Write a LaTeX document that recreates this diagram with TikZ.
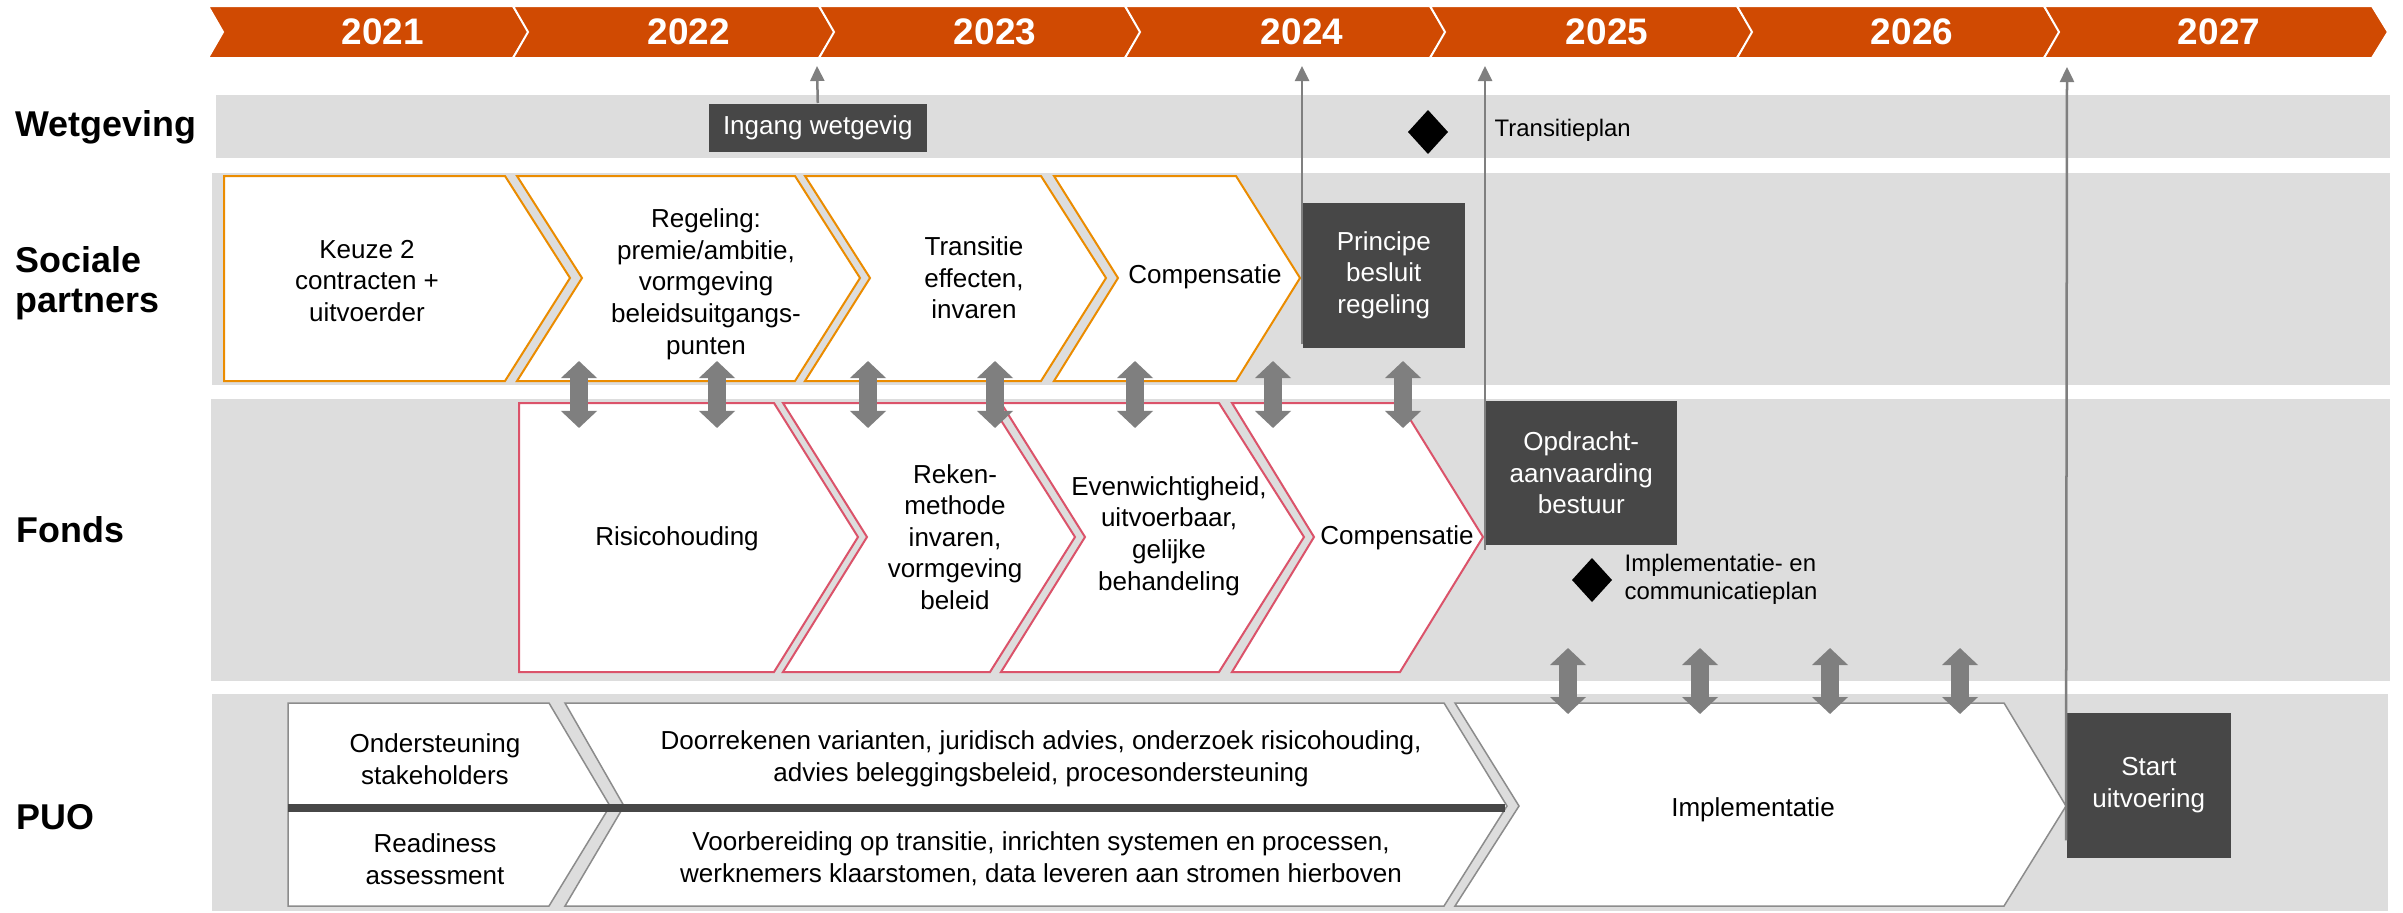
\documentclass[tikz,border=0pt]{standalone}
\usepackage{fontspec}
\setmainfont{Liberation Sans}
\usetikzlibrary{arrows.meta}
\definecolor{banner}{HTML}{D04A02}
\definecolor{band}{HTML}{DDDDDD}
\definecolor{spo}{HTML}{EB8C00}
\definecolor{fpink}{HTML}{DB536A}
\definecolor{dark}{HTML}{474747}
\definecolor{agrey}{HTML}{7F7F7F}
\definecolor{pgrey}{HTML}{8C8C8C}
\begin{document}
\begin{tikzpicture}[x=0.01cm,y=-0.01cm,
  every node/.style={inner sep=0pt},
  yearbox/.style={fill=banner, draw=white, line width=0.2mm},
  yeartxt/.style={text=white, font=\fontsize{10.5}{12}\selectfont\bfseries},
  rowlbl/.style={anchor=west, align=left, font=\fontsize{10.2}{11.4}\selectfont\bfseries},
  spchev/.style={fill=white, draw=spo, line width=0.2mm},
  fchev/.style={fill=white, draw=fpink, line width=0.2mm},
  pchev/.style={fill=white, draw=pgrey, line width=0.15mm},
  txt/.style={align=center, font=\fontsize{7.4}{9}\selectfont},
  smalltxt/.style={align=left, anchor=west, font=\fontsize{6.8}{8}\selectfont},
  darkbox/.style={fill=dark, text=white, align=center, anchor=north west, font=\fontsize{7.4}{9}\selectfont},
  vline/.style={draw=agrey, line width=0.25mm, -{Triangle[length=1.5mm,width=1.4mm]}},
  dblarrow/.style={draw=agrey, line width=1.8mm, {Triangle[length=1.7mm,width=3.5mm]}-{Triangle[length=1.7mm,width=3.5mm]}},
  milestone/.style={fill=black}]
\useasboundingbox (0,0) rectangle (2403,912);

% year banner
\foreach \a/\b/\tx/\yr in {208/513/383/2021, 513/819/689/2022, 819/1125/995/2023, 1125/1430/1302/2024, 1430/1737/1607/2025, 1737/2044/1912/2026, 2044/2372/2219/2027} {
  \path[yearbox] (\a,6) -- (\b,6) -- (\b+16,32) -- (\b,58) -- (\a,58) -- (\a+15,32) -- cycle;
  \node[yeartxt] (y\yr) at (\tx,32) {\yr};
}

% bands
\fill[band] (216,95) rectangle (2390,158);
\fill[band] (212,173) rectangle (2390,385);
\fill[band] (211,399) rectangle (2390,681);
\fill[band] (212,694) rectangle (2388,911);

% row labels
\node[rowlbl] (lw) at (15,127) {Wetgeving};
\node[rowlbl] (ls) at (15,283) {Sociale\\partners};
\node[rowlbl] (lf) at (16,530) {Fonds};
\node[rowlbl] (lp) at (16,817) {PUO};

% sociale partners chevrons
\path[spchev] (224,176) -- (505,176) -- (570,278) -- (505,381) -- (224,381) -- cycle;
\path[spchev] (517,176) -- (795,176) -- (860,278) -- (795,381) -- (517,381) -- (582,278) -- cycle;
\path[spchev] (805,176) -- (1041,176) -- (1106,278) -- (1041,381) -- (805,381) -- (870,278) -- cycle;
\path[spchev] (1054,176) -- (1236,176) -- (1300,278) -- (1236,381) -- (1054,381) -- (1118,278) -- cycle;
\node[txt] (s1) at (367,281) {Keuze 2\\contracten +\\uitvoerder};
\node[txt] (s2) at (706,284) {Regeling:\\premie/ambitie,\\vormgeving\\beleidsuitgangs-\\punten};
\node[txt] (s3) at (974,278) {Transitie\\effecten,\\invaren};
\node[txt] (s4) at (1205,277) {Compensatie};

% fonds chevrons
\path[fchev] (519,403) -- (774,403) -- (858,537) -- (774,672) -- (519,672) -- cycle;
\path[fchev] (783,403) -- (990,403) -- (1075,537) -- (990,672) -- (783,672) -- (867,537) -- cycle;
\path[fchev] (1001,403) -- (1219,403) -- (1304,537) -- (1219,672) -- (1001,672) -- (1085,537) -- cycle;
\path[fchev] (1232,403) -- (1400,403) -- (1483,537) -- (1400,672) -- (1232,672) -- (1314,537) -- cycle;
\node[txt] (f1) at (677,539) {Risicohouding};
\node[txt] (f2) at (955,537) {Reken-\\methode\\invaren,\\vormgeving\\beleid};
\node[txt] (f3) at (1169,536) {Evenwichtigheid,\\uitvoerbaar,\\gelijke\\behandeling};
\node[txt] (f4) at (1397,538) {Compensatie};

% PUO chevrons
\path[pchev] (288,703) -- (549,703) -- (610,806) -- (549,906) -- (288,906) -- cycle;
\path[pchev] (565,703) -- (1444,703) -- (1507,806) -- (1444,906) -- (565,906) -- (624,806) -- cycle;
\path[pchev] (1455,703) -- (2004,703) -- (2066,806) -- (2004,906) -- (1455,906) -- (1519,806) -- cycle;
\fill[dark] (288,804) rectangle (1505,812);
\node[txt] (p1) at (435,759) {Ondersteuning\\stakeholders};
\node[txt] (p2) at (435,859) {Readiness\\assessment};
\node[txt] (p3) at (1041,759) {Doorrekenen varianten, juridisch advies, onderzoek risicohouding,\\advies beleggingsbeleid, procesondersteuning};
\node[txt] (p4) at (1041,859) {Voorbereiding op transitie, inrichten systemen en processen,\\werknemers klaarstomen, data leveren aan stromen hierboven};
\node[txt] (p5) at (1753,810) {Implementatie};

% dark boxes
\node[darkbox, minimum width=2.18cm, minimum height=0.48cm] (ingang) at (708,103) {Ingang wetgevig};
\node[darkbox, minimum width=1.62cm, minimum height=1.45cm] (principe) at (1302,202) {Principe\\besluit\\regeling};
\node[darkbox, minimum width=1.91cm, minimum height=1.44cm] (opdracht) at (1485,400) {Opdracht-\\aanvaarding\\bestuur};
\node[darkbox, minimum width=1.64cm, minimum height=1.45cm] (start) at (2066,712) {Start\\uitvoering};

% milestones
\fill[milestone] (1428,110) -- (1448,132) -- (1428,154) -- (1408,132) -- cycle;
\node[smalltxt] (m1) at (1494,130) {Transitieplan};
\fill[milestone] (1592,558) -- (1612,580) -- (1592,602) -- (1572,580) -- cycle;
\node[smalltxt] (m2) at (1624,579) {Implementatie- en\\communicatieplan};

% lines to the banner
\coordinate (t1) at (817,66);
\coordinate (t2) at (1302,66);
\coordinate (t3) at (1485,66);
\coordinate (t4) at (2067,67);
\draw[vline] (ingang.north) -- (t1);
\draw[vline] ([yshift=0.4mm]principe.south west) -- (t2);
\draw[vline] ([yshift=-0.4mm]opdracht.south west) -- (t3);
\draw[vline] ([yshift=1.8mm]start.south west) -- (t4);

% double arrows
\foreach \x [count=\i] in {579,717,868,995,1135,1273,1403} {
  \coordinate (su\i) at (\x,361);
  \coordinate (sd\i) at (\x,428);
  \draw[dblarrow] (su\i) -- (sd\i);
}
\foreach \x [count=\i] in {1568,1700,1830,1960} {
  \coordinate (fu\i) at (\x,648);
  \coordinate (fd\i) at (\x,714);
  \draw[dblarrow] (fu\i) -- (fd\i);
}
\end{tikzpicture}
\end{document}
